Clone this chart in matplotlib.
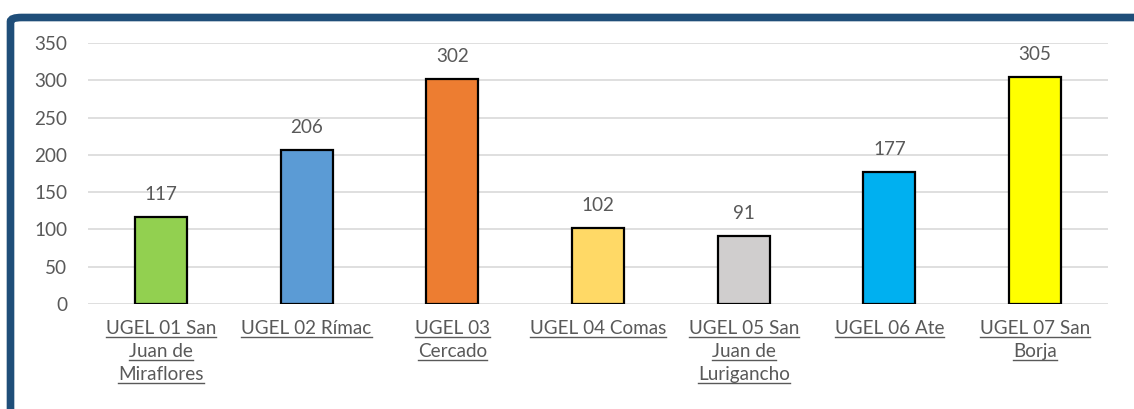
import matplotlib
matplotlib.use("Agg")
import matplotlib.pyplot as plt
from matplotlib.patches import FancyBboxPatch
from matplotlib.transforms import ScaledTranslation
from matplotlib.lines import Line2D

categories = ["UGEL 01 San\nJuan de\nMiraflores", "UGEL 02 Rímac", "UGEL 03\nCercado",
              "UGEL 04 Comas", "UGEL 05 San\nJuan de\nLurigancho", "UGEL 06 Ate",
              "UGEL 07 San\nBorja"]
values = [117, 206, 302, 102, 91, 177, 305]
colors = ["#92D050", "#5B9BD5", "#ED7D31", "#FFD966", "#D0CECE", "#00B0F0", "#FFFF00"]
yticks = [0, 50, 100, 150, 200, 250, 300, 350]

plt.rcParams['font.family'] = ['Lato', 'DejaVu Sans']
TXT = "#595959"
FS = 13.6

fig = plt.figure(figsize=(11.34, 4.09), dpi=100)
ax = fig.add_axes([88/1134, 1-304/409, 1020/1134, 261/409])

x = list(range(len(values)))
bars = ax.bar(x, values, width=0.357, color=colors, edgecolor="black", linewidth=1.6, zorder=3)
ax.set_xlim(-0.5, len(values) - 0.5)
ax.set_ylim(0, 350)
ax.set_yticks(yticks)
ax.set_yticklabels([str(v) for v in yticks], color=TXT, fontsize=FS)
ax.tick_params(axis='y', length=0, pad=15)
ax.set_xticks([])
ax.grid(axis='y', color="#D9D9D9", linewidth=1.2, zorder=0)
for s in ax.spines.values():
    s.set_visible(False)

for xi, v in zip(x, values):
    ax.annotate(str(v), (xi, v), xytext=(0, 10), textcoords="offset points",
                ha='center', va='bottom', color=TXT, fontsize=FS)

# category labels, underlined
texts = []
for xi, lab in zip(x, categories):
    for j, line in enumerate(lab.split("\n")):
        tr = ax.get_xaxis_transform() + ScaledTranslation(0, -(21.8 + j * 16.6) / 72, fig.dpi_scale_trans)
        t = ax.text(xi, 0, line, transform=tr, ha='center', va='baseline', color=TXT, fontsize=FS)
        texts.append(t)

fig.canvas.draw()
r = fig.canvas.get_renderer()
for t in texts:
    bb = t.get_window_extent(r)
    base = t.get_transform().transform((t.get_position()))[1]
    y = base - 3
    fig.add_artist(Line2D([bb.x0 / 1134, bb.x1 / 1134], [y / 409, y / 409],
                          color=TXT, linewidth=1.0, transform=fig.transFigure))

# dark blue frame (top and left)
frame = FancyBboxPatch((10.5/1134, -0.2), 1.2, 1 - 17.5/409 + 0.2,
                       boxstyle="round,pad=0,rounding_size=0.01",
                       transform=fig.transFigure, facecolor="none",
                       edgecolor="#1F4E79", linewidth=5.5, clip_on=False)
fig.add_artist(frame)

fig.savefig("out.png", dpi=100)
